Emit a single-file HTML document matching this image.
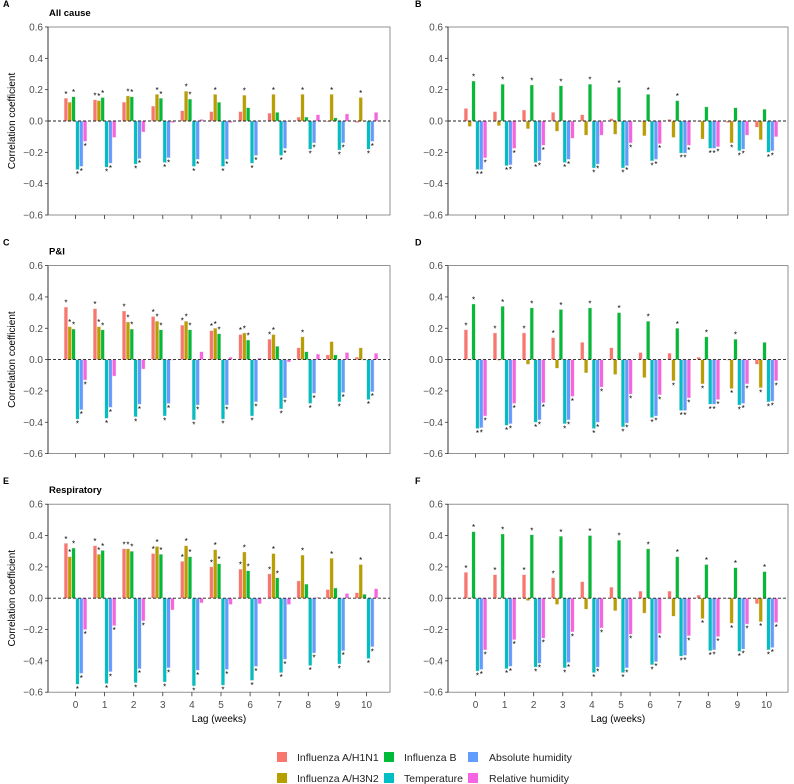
<!DOCTYPE html>
<html><head><meta charset="utf-8"><style>
html,body{margin:0;padding:0;background:#fff;}
svg{display:block;font-family:"Liberation Sans",Arial,sans-serif;}
</style></head><body>
<svg id="chart" width="794" height="784" viewBox="0 0 794 784" xmlns="http://www.w3.org/2000/svg">
<g id="legend" font-size="10.5" fill="#222">
 <rect x="277" y="752" width="10" height="10" fill="#F8766D"/>
 <text x="297" y="761">Influenza A/H1N1</text>
 <rect x="277" y="773" width="10" height="10" fill="#B79F00"/>
 <text x="297" y="782">Influenza A/H3N2</text>
 <rect x="384" y="752" width="10" height="10" fill="#00BA38"/>
 <text x="404" y="761">Influenza B</text>
 <rect x="384" y="773" width="10" height="10" fill="#00BFC4"/>
 <text x="404" y="782">Temperature</text>
 <rect x="468" y="752" width="10" height="10" fill="#619CFF"/>
 <text x="489" y="761">Absolute humidity</text>
 <rect x="468" y="773" width="10" height="10" fill="#F564E3"/>
 <text x="489" y="782">Relative humidity</text>
</g>
</svg>
<script>
const lags = [0,1,2,3,4,5,6,7,8,9,10];
const yTicks = [0.6,0.4,0.2,0.0,-0.2,-0.4,-0.6];
const yTickLabels = ["0.6","0.4","0.2","0.0","\u22120.2","\u22120.4","\u22120.6"];
const seriesNames = ["Influenza A/H1N1","Influenza A/H3N2","Influenza B","Temperature","Absolute humidity","Relative humidity"];

const A_h1n1 = [0.145,0.135,0.12,0.095,0.065,0.06,0.06,0.05,0.025,-0.005,-0.01];
const A_h3n2 = [0.12,0.13,0.16,0.17,0.19,0.17,0.165,0.17,0.17,0.17,0.15];
const A_b    = [0.155,0.15,0.155,0.145,0.14,0.12,0.085,0.055,0.025,0.02,0.0];
const A_temp = [-0.31,-0.295,-0.275,-0.265,-0.29,-0.29,-0.27,-0.22,-0.18,-0.185,-0.18];
const A_ah   = [-0.29,-0.27,-0.24,-0.235,-0.245,-0.245,-0.22,-0.175,-0.14,-0.14,-0.13];
const A_rh   = [-0.13,-0.105,-0.07,-0.01,0.01,-0.01,0.0,-0.005,0.04,0.045,0.055];
const A_sig  = ["101111","111110","011110","011110","011110","010110","010110","010110","010110","010110","010110"];

const B_h1n1 = [0.08,0.06,0.07,0.055,0.04,0.015,0.0,0.01,0.0,-0.01,-0.04];
const B_h3n2 = [-0.035,-0.03,-0.05,-0.065,-0.09,-0.085,-0.095,-0.105,-0.115,-0.14,-0.12];
const B_b    = [0.255,0.235,0.23,0.225,0.235,0.215,0.17,0.13,0.09,0.085,0.075];
const B_temp = [-0.31,-0.285,-0.265,-0.265,-0.3,-0.3,-0.255,-0.205,-0.175,-0.19,-0.2];
const B_ah   = [-0.31,-0.28,-0.255,-0.245,-0.275,-0.285,-0.245,-0.205,-0.175,-0.18,-0.19];
const B_rh   = [-0.235,-0.175,-0.155,-0.11,-0.09,-0.14,-0.145,-0.155,-0.165,-0.09,-0.1];
const B_sig  = ["001111","001111","001111","001110","001110","001111","001111","001111","000111","010110","000110"];

const C_h1n1 = [0.335,0.325,0.31,0.275,0.22,0.185,0.16,0.13,0.075,0.03,0.015];
const C_h3n2 = [0.21,0.21,0.24,0.245,0.245,0.2,0.17,0.16,0.145,0.115,0.075];
const C_b    = [0.195,0.19,0.195,0.19,0.19,0.165,0.125,0.085,0.05,0.03,0.0];
const C_temp = [-0.38,-0.375,-0.365,-0.36,-0.385,-0.38,-0.36,-0.315,-0.28,-0.27,-0.255];
const C_ah   = [-0.32,-0.305,-0.285,-0.28,-0.29,-0.29,-0.27,-0.245,-0.215,-0.21,-0.205];
const C_rh   = [-0.13,-0.105,-0.06,0.0,0.05,0.015,0.01,-0.015,0.035,0.045,0.04];
const C_sig  = ["111111","111110","111110","111110","111110","111110","111110","110110","010110","000110","000110"];

const D_h1n1 = [0.19,0.17,0.17,0.14,0.11,0.075,0.045,0.04,0.015,0.0,-0.03];
const D_h3n2 = [0.0,-0.005,-0.03,-0.055,-0.085,-0.095,-0.115,-0.135,-0.155,-0.185,-0.18];
const D_b    = [0.355,0.34,0.33,0.32,0.33,0.3,0.245,0.2,0.145,0.13,0.11];
const D_temp = [-0.44,-0.42,-0.4,-0.41,-0.44,-0.43,-0.37,-0.325,-0.285,-0.29,-0.27];
const D_ah   = [-0.435,-0.41,-0.385,-0.385,-0.4,-0.405,-0.36,-0.325,-0.285,-0.28,-0.265];
const D_rh   = [-0.36,-0.28,-0.275,-0.235,-0.175,-0.22,-0.225,-0.245,-0.255,-0.155,-0.135];
const D_sig  = ["101111","101111","101111","101111","001111","001111","001111","011111","011111","011111","010111"];

const E_h1n1 = [0.35,0.335,0.315,0.285,0.235,0.2,0.185,0.155,0.11,0.055,0.035];
const E_h3n2 = [0.265,0.28,0.315,0.33,0.335,0.31,0.295,0.285,0.275,0.255,0.215];
const E_b    = [0.32,0.305,0.3,0.28,0.265,0.22,0.175,0.13,0.09,0.065,0.025];
const E_temp = [-0.55,-0.545,-0.54,-0.535,-0.56,-0.555,-0.525,-0.475,-0.43,-0.42,-0.385];
const E_ah   = [-0.48,-0.47,-0.45,-0.445,-0.46,-0.455,-0.435,-0.39,-0.35,-0.335,-0.31];
const E_rh   = [-0.2,-0.175,-0.145,-0.075,-0.03,-0.04,-0.035,-0.04,0.005,0.03,0.06];
const E_sig  = ["111111","111111","111111","111110","111110","111110","111110","111110","010110","010110","010110"];

const F_h1n1 = [0.165,0.15,0.15,0.13,0.105,0.07,0.045,0.045,0.02,0.0,-0.035];
const F_h3n2 = [0.0,0.0,-0.015,-0.04,-0.07,-0.08,-0.095,-0.115,-0.13,-0.16,-0.15];
const F_b    = [0.425,0.41,0.405,0.395,0.4,0.37,0.315,0.265,0.215,0.195,0.17];
const F_temp = [-0.465,-0.45,-0.44,-0.445,-0.475,-0.475,-0.425,-0.37,-0.335,-0.34,-0.33];
const F_ah   = [-0.455,-0.435,-0.415,-0.41,-0.44,-0.445,-0.405,-0.365,-0.33,-0.325,-0.315];
const F_rh   = [-0.33,-0.265,-0.255,-0.215,-0.19,-0.23,-0.225,-0.24,-0.245,-0.165,-0.155];
const F_sig  = ["101111","101111","101111","101111","001111","001111","001111","001111","011111","011111","011111"];

const colors = ["#F8766D","#B79F00","#00BA38","#00BFC4","#619CFF","#F564E3"];
const keys = ["h1n1","h3n2","b","temp","ah","rh"];
const NS = "http://www.w3.org/2000/svg";
const svg = document.getElementById("chart");

function mk(tag, attrs, parent){
  const el = document.createElementNS(NS, tag);
  for (const k in attrs) el.setAttribute(k, attrs[k]);
  parent.appendChild(el);
  return el;
}

const panels = [
  {id:"A", x0:48, x1:390, top:27, title:"All cause", ytitle:true, xlab:false, series:[A_h1n1,A_h3n2,A_b,A_temp,A_ah,A_rh], sig:A_sig},
  {id:"B", x0:448, x1:788, top:27, title:"", ytitle:false, xlab:false, series:[B_h1n1,B_h3n2,B_b,B_temp,B_ah,B_rh], sig:B_sig},
  {id:"C", x0:48, x1:390, top:265.6, title:"P&I", ytitle:true, xlab:false, series:[C_h1n1,C_h3n2,C_b,C_temp,C_ah,C_rh], sig:C_sig},
  {id:"D", x0:448, x1:788, top:265.6, title:"", ytitle:false, xlab:false, series:[D_h1n1,D_h3n2,D_b,D_temp,D_ah,D_rh], sig:D_sig},
  {id:"E", x0:48, x1:390, top:504.2, title:"Respiratory", ytitle:true, xlab:true, series:[E_h1n1,E_h3n2,E_b,E_temp,E_ah,E_rh], sig:E_sig},
  {id:"F", x0:448, x1:788, top:504.2, title:"", ytitle:false, xlab:true, series:[F_h1n1,F_h3n2,F_b,F_temp,F_ah,F_rh], sig:F_sig}
];

panels.forEach(p => {
  const H = 188;
  const bottom = p.top + H;
  const y = v => p.top + (0.6 - v) / 1.2 * H;
  const x = lag => p.x0 + 27.5 + lag * 29.1;
  const g = mk("g", {}, svg);
  
  

  const letter = mk("text", {x: p.x0 - 45 + (p.id==="B"||p.id==="D"||p.id==="F" ? 12 : 0), y: p.top - 20, "font-size": 9, "font-weight": "bold", fill: "#000"}, g);
  
  
  letter.textContent = p.id;
  if (p.title) {
    const t = mk("text", {x: p.x0 + 1, y: p.top - 11, "font-size": 9.5, "font-weight": "bold", fill: "#000"}, g);
    
    
    t.textContent = p.title;
  }
  // frame
  const fr = mk("rect", {x: p.x0, y: p.top, width: p.x1 - p.x0, height: H, fill: "none", stroke: "#777", "stroke-width": 0.8}, g);
  
  
  const ax = mk("line", {x1: p.x0, x2: p.x0, y1: p.top, y2: bottom, stroke: "#333", "stroke-width": 1}, g);
  
  
  // y ticks
  yTicks.forEach((v, i) => {
    const tk = mk("line", {x1: p.x0 - 3, x2: p.x0, y1: y(v), y2: y(v), stroke: "#333", "stroke-width": 0.8}, g);
    
    
    const tl = mk("text", {x: p.x0 - 5, y: y(v) + 3.5, "font-size": 10, "text-anchor": "end", fill: "#4d4d4d"}, g);
    
    
    tl.textContent = yTickLabels[i];
  });
  if (p.ytitle) {
    const yt = mk("text", {x: 0, y: 0, "font-size": 10, "text-anchor": "middle", fill: "#000", transform: "translate(15," + (p.top + H/2) + ") rotate(-90)"}, g);
    
    
    yt.textContent = "Correlation coefficient";
  }
  // x ticks
  lags.forEach(l => {
    const tk = mk("line", {x1: x(l), x2: x(l), y1: bottom, y2: bottom + 4, stroke: "#333", "stroke-width": 0.8}, g);
    
    
    if (p.xlab) {
      const tl = mk("text", {x: x(l), y: bottom + 16, "font-size": 10, "text-anchor": "middle", fill: "#4d4d4d"}, g);
      
      
      tl.textContent = String(l);
    }
  });
  if (p.xlab) {
    const xt = mk("text", {x: (p.x0 + p.x1)/2, y: bottom + 30, "font-size": 10, "text-anchor": "middle", fill: "#000"}, g);
    
    
    xt.textContent = "Lag (weeks)";
  }
  // bars
  const step = 3.85, bw = 3.5;
  p.series.forEach((vals, s) => {
    vals.forEach((v, li) => {
      const cx = x(lags[li]) + (s - 2.5) * step;
      const y0 = y(0), yv = y(v);
      const r = mk("rect", {x: cx - bw/2, y: Math.min(y0, yv), width: bw, height: Math.max(Math.abs(yv - y0), 0.6), fill: colors[s], stroke: "#f3dede", "stroke-width": 0.4}, g);
      
      
      if (p.sig[li][s] === "1") {
        const st = mk("text", {x: cx, y: v >= 0 ? yv - 1.5 : yv + 7.5, "font-size": 8, "text-anchor": "middle", fill: "#000"}, g);
        
        
        st.textContent = "*";
      }
    });
  });
  const zl = mk("line", {x1: p.x0, x2: p.x1, y1: y(0), y2: y(0), stroke: "#222", "stroke-width": 0.9, "stroke-dasharray": "3,2"}, g);
  
  
});
</script>
</body></html>
